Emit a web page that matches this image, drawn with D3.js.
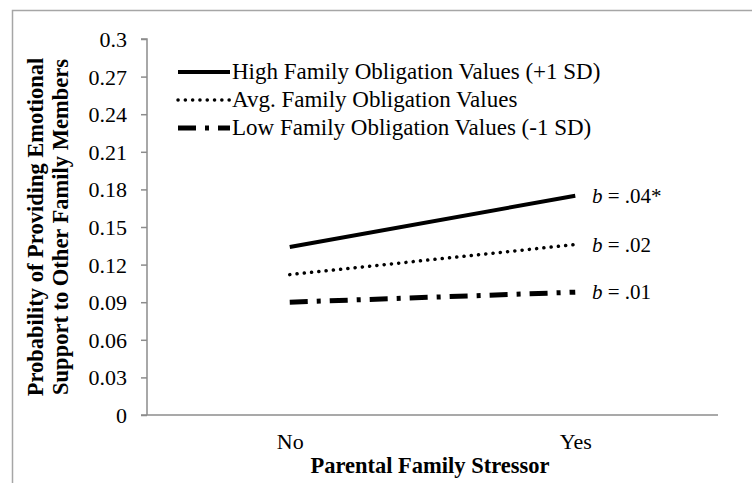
<!DOCTYPE html>
<html>
<head>
<meta charset="utf-8">
<script src="https://cdn.jsdelivr.net/npm/d3@7/dist/d3.min.js"></script>
<style>
html,body{margin:0;padding:0;background:#fff;}
svg{display:block;}
svg text{font-family:"Liberation Serif","Times New Roman",serif !important;fill:#000;}
</style>
</head>
<body>
<script>
const categories = ["No", "Yes"];
const seriesNames = ["High Family Obligation Values (+1 SD)", "Avg. Family Obligation Values", "Low Family Obligation Values (-1 SD)"];
const highValues = [0.134, 0.175];
const avgValues = [0.112, 0.136];
const lowValues = [0.090, 0.098];
const slopeLabels = [".04*", ".02", ".01"];
const yTicks = [0, 0.03, 0.06, 0.09, 0.12, 0.15, 0.18, 0.21, 0.24, 0.27, 0.3];
const yTickLabels = ["0", "0.03", "0.06", "0.09", "0.12", "0.15", "0.18", "0.21", "0.24", "0.27", "0.3"];
const xTitle = "Parental Family Stressor";
const yTitleLines = ["Probability of Providing Emotional", "Support to Other Family Members"];

const W = 752, H = 483;
const FONT = '"Liberation Serif", "Times New Roman", serif';
const svg = d3.select("body").append("svg").attr("width", W).attr("height", H)
  .attr("font-family", FONT);

// frame
svg.append("path").attr("d", `M12.5,${H} V10.5 H${W}`).attr("fill", "none").attr("stroke", "#a6a6a6").attr("stroke-width", 1.5);

const x = d3.scalePoint().domain(categories).range([147, 718]).padding(0.5);
const y = d3.scaleLinear().domain([0, 0.3]).range([415, 39]);

// y axis
const yAxis = d3.axisLeft(y).tickValues(yTicks).tickSize(6).tickPadding(14)
  .tickFormat((d, i) => yTickLabels[i]);
const gy = svg.append("g").attr("transform", "translate(147,0)").call(yAxis)
  .attr("font-family", FONT);
gy.select(".domain").attr("stroke", "#8c8c8c").attr("stroke-width", 1.5).attr("d", `M-6,${y(0.3)}H0V${y(0)}`);
gy.selectAll(".tick line").attr("stroke", "#8c8c8c").attr("stroke-width", 1.5);
gy.selectAll(".tick text").style("font-size", "22px").attr("dy", "0.34em");

// x axis
const xAxis = d3.axisBottom(x).tickSize(0).tickPadding(18);
const gx = svg.append("g").attr("transform", `translate(0,${y(0)})`).call(xAxis)
  .attr("font-family", FONT);
gx.select(".domain").attr("stroke", "#8c8c8c").attr("stroke-width", 1.5).attr("d", `M141,0H718`);
gx.selectAll(".tick text").style("font-size", "22px");

// titles
svg.append("text").attr("x", 430).attr("y", 473).attr("text-anchor", "middle")
  .style("font-size", "22.5px").style("font-weight", "bold").text(xTitle);
const yt = svg.append("text").attr("transform", `translate(0,${(y(0)+y(0.3))/2}) rotate(-90)`)
  .attr("text-anchor", "middle").style("font-size", "22.5px").style("font-weight", "bold");
yTitleLines.forEach((t, i) => yt.append("tspan").attr("x", 0).attr("y", 43 + i * 25).text(t));

const styles = [
  {w: 4, dash: null, cap: "butt"},
  {w: 3.5, dash: "0.1,7.2", cap: "round"},
  {w: 5, dash: "18,9,4,9", cap: "butt"}
];
const seriesValues = [highValues, avgValues, lowValues];
const line = d3.line().x((d, i) => x(categories[i])).y(d => y(d));

seriesValues.forEach((vals, k) => {
  const p = svg.append("path").datum(vals).attr("d", line)
    .attr("fill", "none").attr("stroke", "#000")
    .attr("stroke-width", styles[k].w).attr("stroke-linecap", styles[k].cap);
  if (styles[k].dash) p.attr("stroke-dasharray", styles[k].dash);
  // slope label
  const lt = svg.append("text").attr("x", 592).attr("y", y(vals[1]) + 7).style("font-size", "21px");
  lt.append("tspan").style("font-style", "italic").text("b");
  lt.append("tspan").text(" = " + slopeLabels[k]);
});

// legend
const legend = svg.append("g");
seriesNames.forEach((n, k) => {
  const ly = 72 + k * 28;
  const l = legend.append("line").attr("x1", 178).attr("x2", 230).attr("y1", ly).attr("y2", ly)
    .attr("stroke", "#000").attr("stroke-width", styles[k].w).attr("stroke-linecap", styles[k].cap);
  if (styles[k].dash) l.attr("stroke-dasharray", styles[k].dash);
  legend.append("text").attr("x", 232).attr("y", ly + 7).style("font-size", "23px").text(n);
});
</script>
</body>
</html>
